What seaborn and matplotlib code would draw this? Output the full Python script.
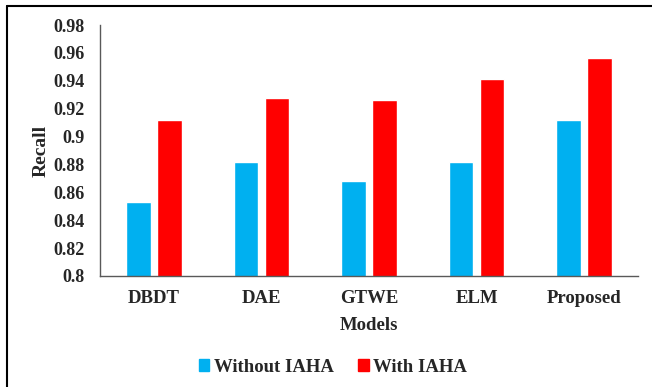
import matplotlib
matplotlib.use("Agg")
import matplotlib.pyplot as plt
from matplotlib.lines import Line2D
import seaborn as sns
import pandas as pd

models = ["DBDT", "DAE", "GTWE", "ELM", "Proposed"]
without_iaha = [0.853, 0.882, 0.868, 0.882, 0.912]
with_iaha = [0.912, 0.928, 0.926, 0.941, 0.956]
series_names = ["Without IAHA", "With IAHA"]
yticks = [0.8, 0.82, 0.84, 0.86, 0.88, 0.9, 0.92, 0.94, 0.96, 0.98]
ytick_labels = ["0.8", "0.82", "0.84", "0.86", "0.88", "0.9", "0.92", "0.94", "0.96", "0.98"]

df = pd.DataFrame({
    "Models": models * 2,
    "Recall": without_iaha + with_iaha,
    "Series": [series_names[0]] * len(models) + [series_names[1]] * len(models),
})

sns.set_style("white")
plt.rcParams["font.family"] = ["Liberation Serif", "DejaVu Serif"]
plt.rcParams["font.weight"] = "bold"

W, H = 652, 387
fig = plt.figure(figsize=(W / 100, H / 100), dpi=100)
ax = fig.add_axes([100 / W, (H - 276) / H, 538 / W, 251 / H])

palette = {"Without IAHA": "#00B0F0", "With IAHA": "#FF0000"}
sns.barplot(data=df, x="Models", y="Recall", hue="Series", palette=palette,
            width=0.576, gap=0.21, saturation=1, ax=ax, legend=False)

ax.set_ylim(0.8, 0.98)
ax.set_xlim(-0.5, len(models) - 0.5)
ax.set_yticks(yticks)
ax.set_yticklabels(ytick_labels)
ax.tick_params(axis="y", length=0, labelsize=13, pad=11)
ax.tick_params(axis="x", length=0, labelsize=13.5, pad=10)
for lbl in ax.get_xticklabels() + ax.get_yticklabels():
    lbl.set_fontweight("bold")

ax.set_xlabel("Models", fontsize=13.5, fontweight="bold", labelpad=7)
ax.set_ylabel("Recall", fontsize=14, fontweight="bold", labelpad=3)

for side in ["top", "right"]:
    ax.spines[side].set_visible(False)
for side in ["left", "bottom"]:
    ax.spines[side].set_color("#595959")
    ax.spines[side].set_linewidth(1.0)

handles = [plt.Rectangle((0, 0), 1, 1, color=palette[s]) for s in series_names]
fig.legend(handles, series_names, loc="center", bbox_to_anchor=(333 / W, 1 - 367 / H),
           ncol=2, frameon=False, handlelength=0.55, handleheight=0.55,
           handletextpad=0.25, columnspacing=1.3,
           prop={"family": "Liberation Serif", "weight": "bold", "size": 13.5})

# frame lines along the top and left edges
fig.add_artist(Line2D([6.5 / W, 6.5 / W], [0, 1 - 6 / H], color="black", lw=1.5, transform=fig.transFigure))
fig.add_artist(Line2D([6.5 / W, 1], [1 - 6 / H, 1 - 6 / H], color="black", lw=1.5, transform=fig.transFigure))

fig.savefig("out.png", dpi=100)
